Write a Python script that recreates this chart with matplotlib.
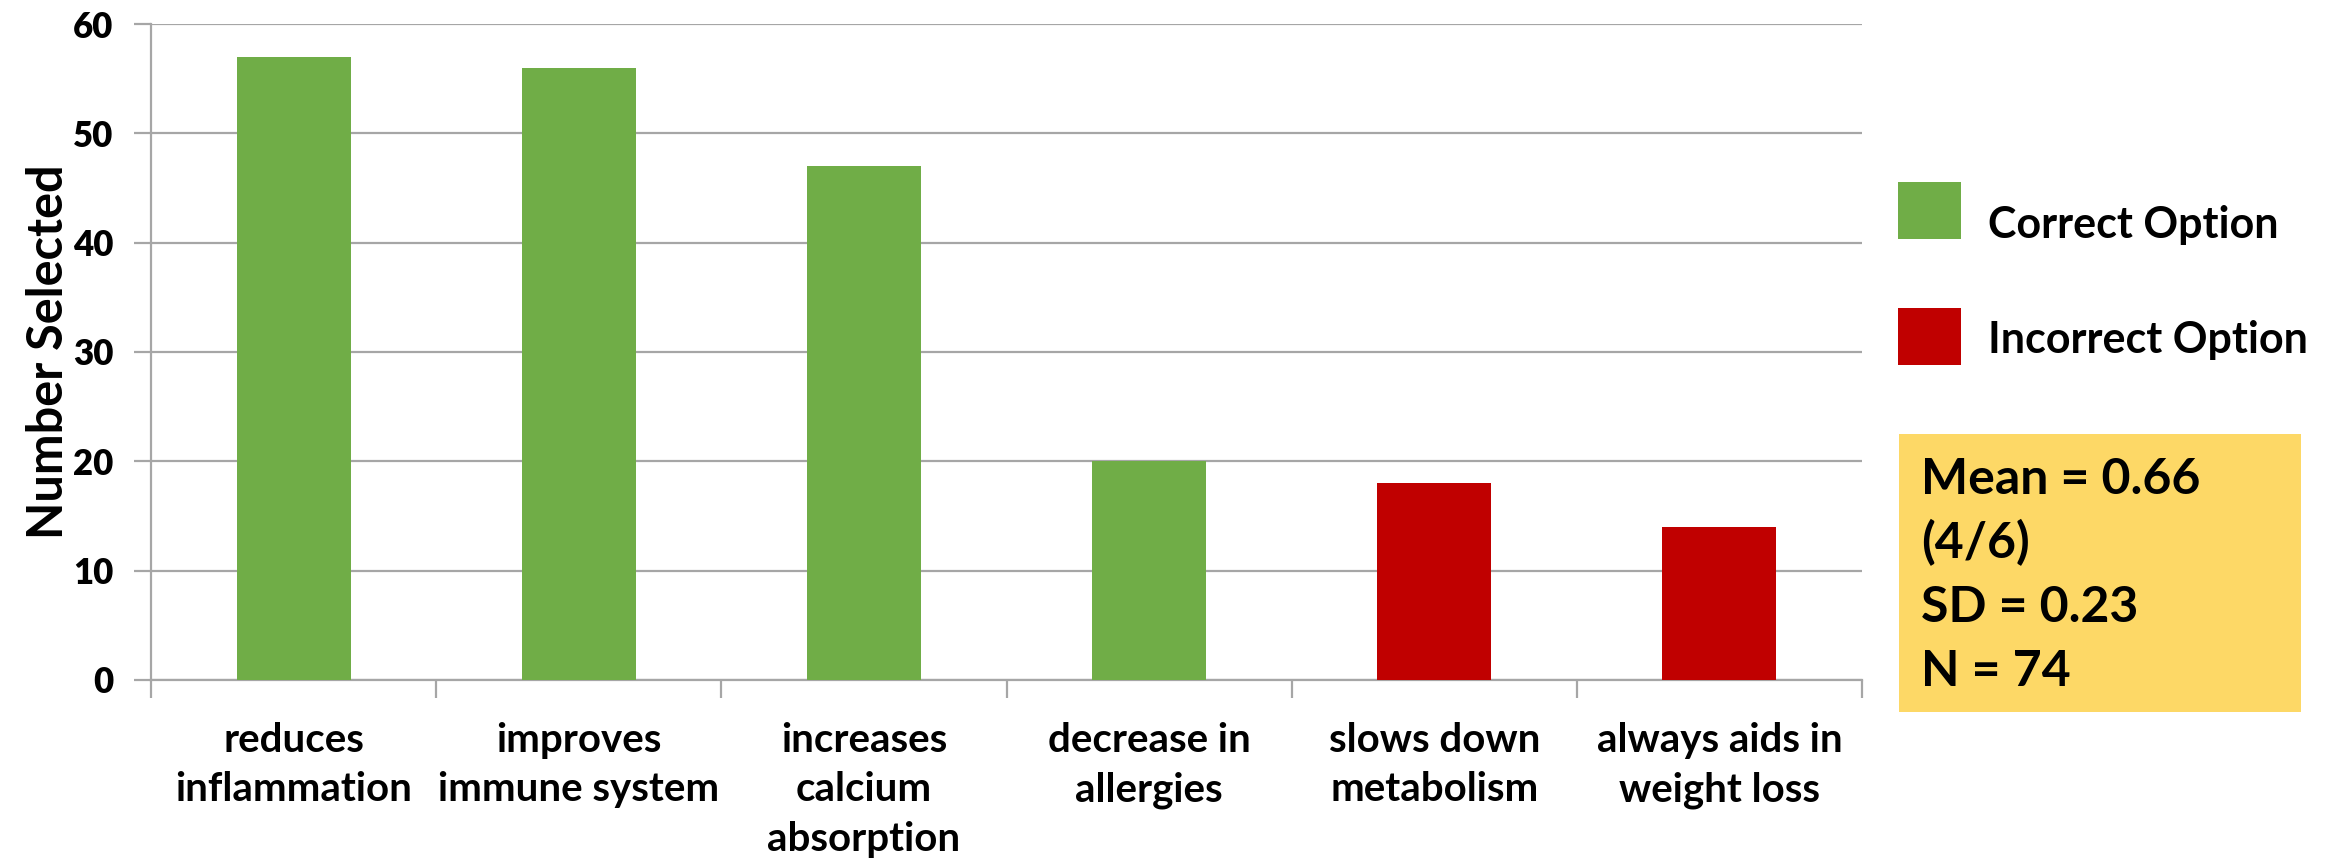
import matplotlib.pyplot as plt
from matplotlib.patches import Rectangle

categories = [
    "reduces\ninflammation",
    "improves\nimmune system",
    "increases\ncalcium\nabsorption",
    "decrease in\nallergies",
    "slows down\nmetabolism",
    "always aids in\nweight loss",
]
counts = [57, 56, 47, 20, 18, 14]
is_correct = [True, True, True, True, False, False]
stats_lines = ["Mean = 0.66", "(4/6)", "SD = 0.23", "N = 74"]

GREEN = "#70AD47"
RED = "#C00000"
GRID = "#A6A6A6"
FONT = ["Lato", "DejaVu Sans"]

plt.rcParams["font.family"] = FONT
plt.rcParams["font.weight"] = "bold"

fig = plt.figure(figsize=(23.41, 8.58), dpi=100)
ax = fig.add_axes([0.0645, 0.2075, 0.7309, 0.7645])

x = list(range(len(categories)))
colors = [GREEN if ok else RED for ok in is_correct]
ax.bar(x, counts, width=0.4, color=colors, zorder=3)

ax.set_xlim(-0.5, len(categories) - 0.5)
ax.set_ylim(0, 60)
ax.set_yticks(range(0, 61, 10))
ax.set_yticklabels([str(v) for v in range(0, 61, 10)], fontsize=25,
                   fontweight="heavy")
ax.yaxis.grid(True, color=GRID, linewidth=1.6, zorder=0)
ax.tick_params(axis="y", length=12, width=1.6, color=GRID, pad=15)

# category boundaries carry the x ticks, labels sit at bar centres
ax.set_xticks([i - 0.5 for i in range(len(categories) + 1)])
ax.set_xticklabels([])
ax.set_xticks(x, minor=True)
ax.set_xticklabels(categories, minor=True, fontsize=29, fontweight="bold",
                   linespacing=1.42)
ax.tick_params(axis="x", which="major", length=13, width=1.6, color=GRID)
ax.tick_params(axis="x", which="minor", length=0, pad=30)

for side in ["top", "right"]:
    ax.spines[side].set_visible(False)
for side in ["left", "bottom"]:
    ax.spines[side].set_color(GRID)
    ax.spines[side].set_linewidth(1.6)

ax.set_ylabel("Number Selected", fontsize=35, fontweight="bold")
ax.yaxis.set_label_coords(-0.047, 0.5)

# legend swatches
W, H = 2341.0, 858.0
for top, base, color, label in [(182, 238, GREEN, "Correct Option"),
                                (308, 353, RED, "Incorrect Option")]:
    fig.add_artist(Rectangle((1898 / W, 1 - (top + 57) / H), 63 / W, 57 / H,
                             facecolor=color, edgecolor="none",
                             transform=fig.transFigure))
    fig.text(1988 / W, 1 - base / H, label, fontsize=31,
             fontweight="bold", va="baseline", ha="left")

# summary box
fig.add_artist(Rectangle((1899 / W, 1 - 712 / H), 402 / W, 278 / H,
                         facecolor="#FDD866", edgecolor="none",
                         transform=fig.transFigure))
for i, line in enumerate(stats_lines):
    fig.text(1921 / W, 1 - (494 + 64 * i) / H, line, fontsize=36,
             fontweight="bold", va="baseline", ha="left")

fig.savefig("out.png", dpi=100)
